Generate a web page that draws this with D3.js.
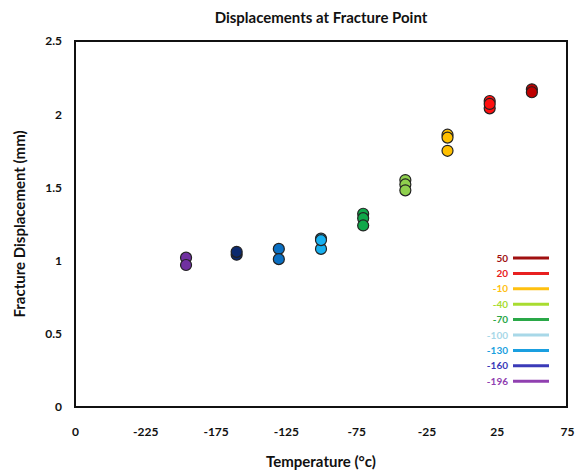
<!DOCTYPE html>
<html><head><meta charset="utf-8">
<script src="https://cdn.jsdelivr.net/npm/d3@7/dist/d3.min.js"></script>
<style>body{margin:0;background:#fff}svg{display:block}text{font-family:Lato,"Open Sans",sans-serif;font-weight:bold}</style>
</head><body>
<script>
const temps = [-196, -160, -130, -100, -70, -40, -10, 20, 50];
const displacements = [
  [1.02, 0.97],
  [1.04, 1.06],
  [1.08, 1.01],
  [1.15, 1.08, 1.14],
  [1.32, 1.29, 1.24],
  [1.55, 1.52, 1.48],
  [1.86, 1.84, 1.75],
  [2.09, 2.04, 2.07],
  [2.17, 2.15]
];
const pointColors = ["#7030a0","#0c2a6e","#0a6fc2","#16b0f0","#10a84a","#8fd04e","#ffc000","#ff1010","#c00000"];
const legendLabels = ["50","20","-10","-40","-70","-100","-130","-160","-196"];
const legendColors = ["#a01010","#e82020","#ffc010","#a8dc30","#2aa848","#a8d8e8","#1a9fe0","#3a3ab8","#9040b0"];
const xTickValues = [-275, -225, -175, -125, -75, -25, 25, 75];
const xTickLabels = ["0", "-225", "-175", "-125", "-75", "-25", "25", "75"];
const yTickValues = [0, 0.5, 1, 1.5, 2, 2.5];

const W = 577, H = 475;
const m = {l: 75, r: 10, t: 41, b: 68};
const svg = d3.select("body").append("svg").attr("width", W).attr("height", H);
const x = d3.scaleLinear().domain([-275, 75]).range([m.l, W - m.r]);
const y = d3.scaleLinear().domain([0, 2.5]).range([H - m.b, m.t]);
const F = 'Lato,"Open Sans",sans-serif';

svg.append("text").attr("x", (m.l + W - m.r) / 2).attr("y", 23).attr("text-anchor", "middle")
  .attr("font-size", 15).attr("fill", "#111").text("Displacements at Fracture Point");

const xa = svg.append("g").attr("transform", `translate(0,${H - m.b})`)
  .call(d3.axisBottom(x).tickValues(xTickValues).tickFormat((d, i) => xTickLabels[i]).tickSize(0).tickPadding(20));
xa.select(".domain").remove();
xa.selectAll("text").attr("font-size", 12).attr("fill", "#111").style("font-family", F).style("font-weight", "bold");

const ya = svg.append("g").attr("transform", `translate(${m.l},0)`)
  .call(d3.axisLeft(y).tickValues(yTickValues).tickFormat(d3.format("~g")).tickSize(0).tickPadding(13));
ya.select(".domain").remove();
ya.selectAll("text").attr("font-size", 12).attr("fill", "#111").style("font-family", F).style("font-weight", "bold");

svg.append("rect").attr("x", x(-275)).attr("y", y(2.5))
  .attr("width", x(75) - x(-275)).attr("height", y(0) - y(2.5))
  .attr("fill", "none").attr("stroke", "#111").attr("stroke-width", 2);

svg.append("text").attr("x", (m.l + W - m.r) / 2).attr("y", 467).attr("text-anchor", "middle")
  .attr("font-size", 15).attr("fill", "#111").text("Temperature (°c)");
svg.append("text").attr("transform", `translate(25,${(m.t + H - m.b) / 2}) rotate(-90)`)
  .attr("text-anchor", "middle").attr("font-size", 15).attr("fill", "#111").text("Fracture Displacement (mm)");

const pts = [];
temps.forEach((t, i) => displacements[i].forEach(v => pts.push({t, v, c: pointColors[i]})));
svg.append("g").selectAll("circle").data(pts).join("circle")
  .attr("cx", d => x(d.t)).attr("cy", d => y(d.v)).attr("r", 5.5)
  .attr("fill", d => d.c).attr("stroke", "#222").attr("stroke-width", 1.2);

const lg = svg.append("g");
legendLabels.forEach((lab, i) => {
  const yy = 258 + i * 15.4;
  lg.append("text").attr("x", 508).attr("y", yy + 3.5).attr("text-anchor", "end")
    .attr("font-size", 10).attr("fill", legendColors[i]).text(lab);
  lg.append("line").attr("x1", 513).attr("x2", 549).attr("y1", yy).attr("y2", yy)
    .attr("stroke", legendColors[i]).attr("stroke-width", 3);
});
</script>
</body></html>
